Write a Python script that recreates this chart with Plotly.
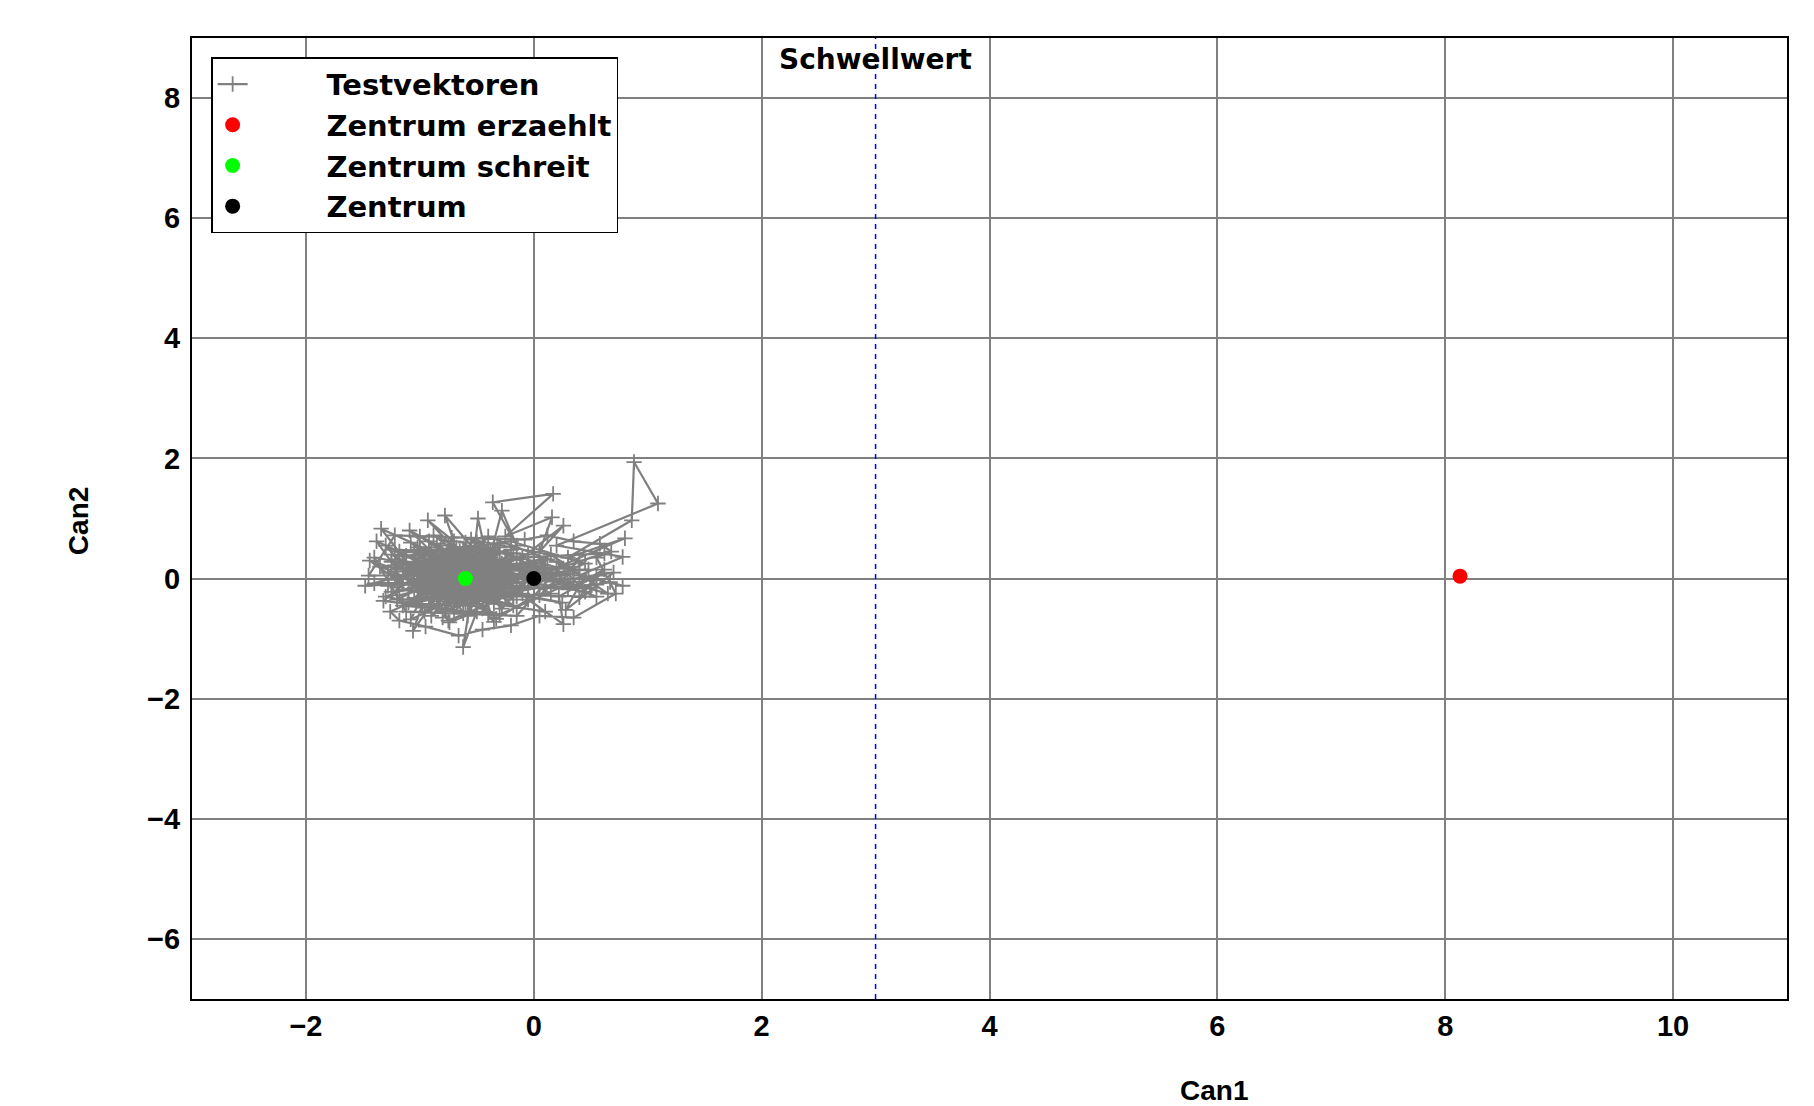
import plotly.graph_objects as go

# ---------------- data ----------------
TEST_X = [
    -0.62, -0.45, -0.80, -0.33, -0.95, -0.52, -0.20, -0.70, -1.05, -0.40,
    -0.10, -0.85, -0.60, -1.15, -0.28, -0.75, -0.48, 0.05, -0.90, -0.65,
    -1.20, -0.38, -0.55, -0.15, -1.00, -0.70, -0.25, -1.28, -0.45, 0.10,
    -0.82, -0.60, -1.10, -0.35, -0.92, -0.18, -0.68, -1.25, 0.20, -0.50,
    -0.78, -1.02, -0.30, -0.58, 0.00, -1.18, -0.42, -0.88, 0.15, -0.65,
    -1.35, -0.22, -0.96, -0.40, 0.30, -0.72, -1.08, -0.12, -0.55, -0.85,
    0.35, -0.30, -1.22, -0.62, -0.05, -0.98, 0.25, -0.48, -1.30, -0.75,
    0.45, -0.20, -1.12, -0.35, 0.10, -0.58, -0.95, 0.50, -0.80, -1.40,
    -0.68, -1.48, -1.05, -1.34, -0.90, -1.09, -0.60, -0.93, -0.70, -0.78,
    -0.52, -0.49, -0.40, -0.28, -0.15, -0.36, 0.17, -0.25, 0.16, 0.05,
    0.26, -0.10, 0.62, 0.10, 0.80, 0.30, 0.86, 0.88, 1.09, 0.20,
    0.78, 0.40, 0.78, 0.67, 0.30, 0.62, 0.40, 0.55, 0.22, 0.26,
    -0.05, -0.33, -0.55, -0.62, -0.50, -0.74, -0.85, -1.06, -0.98, -1.32,
    -1.15, -1.44, -1.20, -1.38, -1.00, -0.65, -0.42, -0.22, -0.60, -0.88,
    -0.50, -0.72, -0.30, -1.02, -0.45, -0.15, -0.82, -0.58, -1.18, -0.38,
    0.08, -0.68, -0.92, -0.25, -0.55, -1.10, -0.35, -0.78, -0.05, -0.62,
    -0.98, -0.42, -0.18, -0.70, -1.25, -0.48, -0.85, -0.28, 0.12, -0.65,
    -1.05, -0.32, -0.58, -0.90, -0.12, -0.75, -0.40, -1.15, -0.20, -0.55,
    0.40, 0.05, 0.55, 0.18, 0.70, 0.28, 0.48, 0.00, 0.65, 0.15,
    -0.45, -0.88, -0.62, -1.30, -0.20, -0.95, -0.50, -0.72, -1.08, -0.30,
    -0.65, -1.22, -0.85, -0.38, -0.02, -0.78, -0.55, -1.00, -0.25, -0.68,
    -1.40, -1.12, -0.15, 0.22, -0.48, -0.80, -0.60, -0.35, -0.92, -0.62,
    -1.26, -1.18, -0.95, -0.66, -0.45, -0.20, 0.05, 0.35, 0.72, 0.55,
    0.68, 0.58, 0.35, 0.12, -0.08, -1.22, -1.45, -0.60, -0.70, -0.58,
    -0.98, -0.55, -0.28, -1.15, -0.62, -0.35, -0.88, -0.45, -1.05, -0.72,
    -0.20, -0.92, -0.50, -1.22, -0.65, -0.15, -0.80, -0.40, -1.00, -0.58,
    -0.30, -0.75, -1.28, -0.48, -0.85, -0.25, -0.68, -1.12, -0.42, -0.95,
    -0.60, -0.10, -0.82, -0.52, -1.18, -0.38, -0.70, -0.22, -1.05, -0.78,
    -0.45, -0.90, -0.32, -0.62, -1.10, -0.55, -0.18, -0.85, -0.48, -0.70,
    -1.25, -0.35, -0.75, -0.58, -1.02, -0.28, -0.65, -0.92, -0.40, -0.80,
    0.05, 0.30, -0.05, 0.40, 0.10, 0.55, 0.20, 0.45, -0.08, 0.32,
    -0.52, -0.88, -0.42, -1.20, -0.62, -0.30, -0.78, -1.08, -0.50, -0.60,
]
TEST_Y = [
    0.05, 0.21, -0.12, 0.10, 0.30, -0.25, 0.18, 0.40, -0.05, -0.35,
    0.02, 0.15, -0.40, 0.25, -0.15, 0.55, 0.35, -0.10, -0.30, 0.22,
    -0.15, 0.45, -0.08, -0.30, 0.48, -0.55, 0.30, 0.10, -0.50, 0.15,
    0.35, 0.12, -0.40, -0.02, 0.62, -0.45, -0.20, 0.40, 0.05, 0.60,
    -0.02, 0.18, 0.52, -0.62, 0.30, -0.28, 0.08, 0.72, -0.25, -0.35,
    0.20, 0.05, -0.55, 0.70, 0.20, 0.05, 0.60, -0.18, 0.28, -0.45,
    -0.05, -0.60, -0.02, 0.50, 0.40, 0.05, -0.40, -0.18, 0.55, -0.70,
    0.25, 0.62, 0.38, -0.42, -0.55, 0.40, -0.18, -0.15, 0.25, -0.08,
    -0.05, -0.12, 0.12, 0.83, 0.45, 0.80, 0.30, 0.97, 0.62, 1.05,
    0.48, 1.00, 0.25, 1.13, 0.55, 1.27, 1.41, 0.70, 1.02, 0.45,
    0.88, 0.35, 0.42, 0.10, 0.67, 0.35, 0.97, 1.94, 1.25, 0.55,
    0.36, 0.05, -0.12, -0.06, -0.18, 0.15, -0.31, 0.05, -0.30, -0.76,
    -0.35, -0.67, -0.30, -1.14, -0.55, -0.73, -0.30, -0.87, -0.45, -0.37,
    -0.10, 0.30, 0.15, 0.62, 0.28, 0.15, -0.25, 0.15, -0.12, 0.10,
    0.18, -0.30, 0.32, -0.22, 0.42, -0.08, 0.48, -0.45, 0.32, -0.12,
    0.22, 0.28, -0.08, -0.32, 0.55, 0.05, 0.20, -0.52, -0.15, 0.38,
    0.38, -0.38, 0.42, -0.08, -0.22, 0.05, 0.58, -0.50, 0.32, -0.18,
    0.45, 0.58, 0.02, -0.62, 0.25, 0.18, -0.58, -0.45, -0.05, 0.65,
    0.30, -0.28, -0.30, -0.05, 0.10, -0.52, 0.15, 0.08, -0.25, 0.40,
    -0.05, 0.32, -0.58, -0.30, 0.48, 0.20, -0.30, 0.68, -0.68, 0.00,
    0.45, 0.48, -0.20, 0.35, 0.12, -0.38, 0.20, 0.70, -0.22, 0.10,
    0.35, -0.55, -0.62, 0.18, 0.52, -0.65, 0.60, -0.72, 0.52, -0.02,
    -0.55, -0.70, -0.80, -0.95, -0.85, -0.78, -0.62, -0.65, -0.25, 0.35,
    0.45, 0.58, 0.62, 0.72, 0.65, 0.72, 0.05, 0.08, -0.02, 0.10,
    0.12, -0.22, 0.25, 0.05, 0.42, -0.28, -0.10, 0.30, -0.32, 0.15,
    -0.12, 0.42, -0.42, 0.22, -0.08, 0.32, 0.08, 0.50, -0.15, 0.25,
    -0.40, 0.32, -0.12, 0.12, -0.38, 0.05, 0.52, 0.18, -0.15, -0.25,
    0.32, -0.25, 0.20, -0.12, 0.45, 0.38, -0.45, 0.22, 0.35, -0.22,
    0.15, -0.02, -0.08, -0.32, -0.20, 0.48, -0.35, 0.40, -0.28, 0.28,
    0.28, 0.12, -0.12, 0.15, 0.52, -0.20, 0.00, -0.42, 0.42, 0.02,
    0.05, -0.10, 0.20, 0.15, -0.15, -0.10, 0.28, -0.22, -0.05, 0.08,
    0.08, 0.25, -0.32, -0.35, 0.18, 0.45, -0.30, 0.10, -0.05, 0.00,
]

CENTER_ERZAEHLT = (8.13, 0.04)
CENTER_SCHREIT = (-0.60, 0.00)
CENTER = (0.00, 0.00)
SCHWELLWERT = 3.0

X_TICKS = [-2, 0, 2, 4, 6, 8, 10]
Y_TICKS = [-6, -4, -2, 0, 2, 4, 6, 8]
X_RANGE = [-3, 11]
Y_RANGE = [-7, 9]

# ---------------- figure ----------------
GRAY = "#808080"
NB = "\u00a0"
PAD = NB * 8
LEGEND_FONT = dict(family="DejaVu Sans", size=29, color="black")

fig = go.Figure()

fig.add_trace(go.Scatter(
    x=TEST_X, y=TEST_Y, mode="lines+markers", name=PAD + "<b>Testvektoren</b>",
    line=dict(color=GRAY, width=2.2),
    marker=dict(symbol="cross-thin", size=11, line=dict(color=GRAY, width=1.8), color=GRAY),
))
fig.add_trace(go.Scatter(
    x=[CENTER_ERZAEHLT[0]], y=[CENTER_ERZAEHLT[1]], mode="markers",
    name=PAD + "<b>Zentrum erzaehlt</b>", marker=dict(color="#ff0000", size=15),
))
fig.add_trace(go.Scatter(
    x=[CENTER_SCHREIT[0]], y=[CENTER_SCHREIT[1]], mode="markers",
    name=PAD + "<b>Zentrum schreit</b>", marker=dict(color="#00ff00", size=15),
))
fig.add_trace(go.Scatter(
    x=[CENTER[0]], y=[CENTER[1]], mode="markers",
    name=PAD + "<b>Zentrum</b>", marker=dict(color="#000000", size=15),
))

fig.add_shape(type="line", xref="x", yref="paper",
              x0=SCHWELLWERT, x1=SCHWELLWERT, y0=0, y1=1,
              line=dict(color="#0000ff", width=1.5, dash="5px,5px"))

fig.add_annotation(x=SCHWELLWERT, xref="x", y=0.978, yref="paper",
                   text="<b>Schwellwert</b>", showarrow=False,
                   xanchor="center", yanchor="middle",
                   font=dict(family="DejaVu Sans", size=28, color="black"))
fig.add_annotation(x=0.641, xref="paper", y=-0.095, yref="paper",
                   text="<b>Can1</b>", showarrow=False,
                   xanchor="center", yanchor="middle",
                   font=dict(family="Liberation Sans", size=28, color="black"))
fig.add_annotation(x=-0.071, xref="paper", y=0.497, yref="paper",
                   text="<b>Can2</b>", showarrow=False, textangle=-90,
                   xanchor="center", yanchor="middle",
                   font=dict(family="Liberation Sans", size=28, color="black"))

axis_common = dict(
    showgrid=True, gridcolor=GRAY, gridwidth=1.5,
    zeroline=False, showline=True, linecolor="black", linewidth=2,
    mirror=True, ticks="",
    tickfont=dict(family="Liberation Sans", size=29, color="black", weight="bold"),
)

fig.update_xaxes(range=X_RANGE, tickvals=X_TICKS,
                 ticktext=[f"{v}".replace("-", "\u2212") for v in X_TICKS],
                 ticklabelstandoff=0, **axis_common)
fig.update_yaxes(range=Y_RANGE, tickvals=Y_TICKS,
                 ticktext=[f"{v}".replace("-", "\u2212") for v in Y_TICKS],
                 ticklabelstandoff=4, **axis_common)

fig.update_layout(
    width=1806, height=1098,
    margin=dict(l=184, r=27, t=30, b=107),
    paper_bgcolor="white", plot_bgcolor="white",
    showlegend=True,
    legend=dict(x=0.012, y=0.98, xanchor="left", yanchor="top",
                bgcolor="white", bordercolor="black", borderwidth=1.5,
                font=LEGEND_FONT, tracegroupgap=0),
)

fig.write_html("out.html")
